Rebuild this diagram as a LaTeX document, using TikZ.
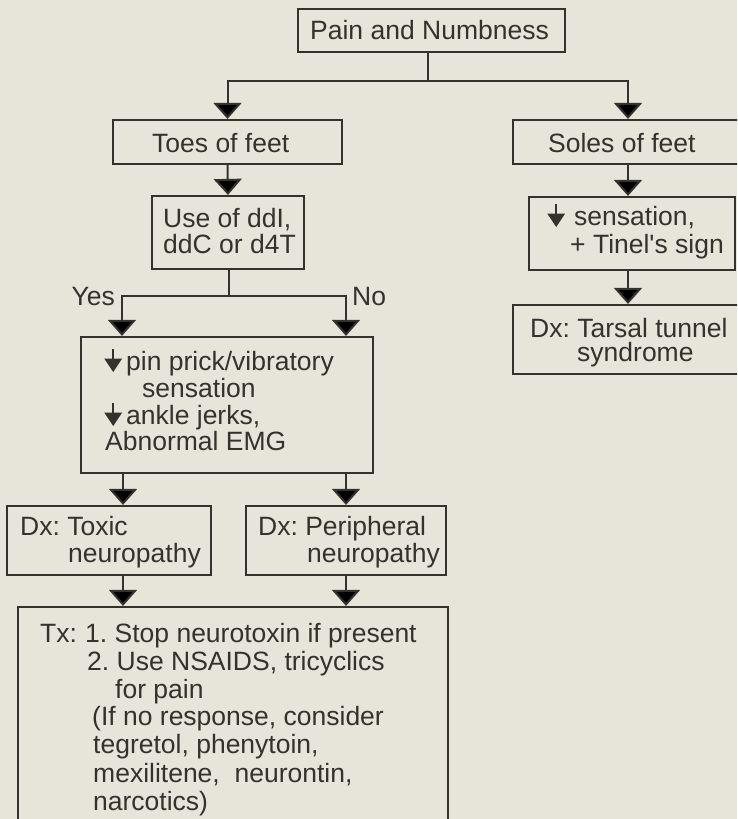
\documentclass[tikz,border=0pt]{standalone}
\usepackage{fontspec}
\setmainfont{Liberation Sans}
\usetikzlibrary{arrows.meta}
\definecolor{paper}{RGB}{231,228,218}
\definecolor{ink}{RGB}{52,50,45}
% small "decreased" arrow used inside the finding texts
\newcommand\dnarr{\tikz[baseline=0pt, x=1pt, y=1pt]{%
  \draw[draw=ink, line width=2pt] (9,21) -- (9,8);
  \fill[ink] (0,11.5) -- (18,11.5) -- (9,-2) -- cycle;}}
\frenchspacing
\begin{document}
\begin{tikzpicture}[x=1pt,y=-1pt,
  box/.style={draw=ink, line width=2.2pt, inner sep=0pt, rectangle},
  wire/.style={draw=ink, line width=2pt},
  arr/.style={wire, -{Triangle[width=28pt,length=16pt]}},
  txt/.style={text=ink, inner sep=0pt, anchor=base west, font=\fontsize{26.5}{28}\selectfont}]

\useasboundingbox (0,0) rectangle (737,819);
\fill[paper] (0,0) rectangle (737,819);
\clip (0,0) rectangle (737,819);

% boxes
\node[box, minimum width=267pt, minimum height=43pt] (pain)   at (431.5,30.5) {};
\node[box, minimum width=229pt, minimum height=44pt] (toes)   at (227.5,142)  {};
\node[box, minimum width=232pt, minimum height=44pt] (soles)  at (629,142)    {};
\node[box, minimum width=152pt, minimum height=73pt] (use)    at (228,232.5)  {};
\node[box, minimum width=292pt, minimum height=136pt] (pin)   at (227,405)    {};
\node[box, minimum width=204pt, minimum height=69pt] (toxic)  at (109,540.5)  {};
\node[box, minimum width=200pt, minimum height=69pt] (periph) at (346,540.5)  {};
\node[box, minimum width=430pt, minimum height=223pt] (tx)    at (233,718.5)  {};
\node[box, minimum width=206pt, minimum height=73pt] (sens)   at (632,233.5)  {};
\node[box, minimum width=232pt, minimum height=69pt] (tarsal) at (629,339.5)  {};

% texts
\node[txt] (painT) at (310,39) {Pain and Numbness};
\node[txt] (toesT) at (152,152) {Toes of feet};
\node[txt] (solesT) at (548,152) {Soles of feet};
\node[txt] (useT1) at (163,227) {Use of ddI,};
\node[txt] (useT2) at (163,253) {ddC or d4T};
\node[txt] (pinT1) at (104,370) {\dnarr\hspace{4pt}pin prick/vibratory};
\node[txt] (pinT2) at (142,397) {sensation};
\node[txt] (pinT3) at (104,424) {\dnarr\hspace{4pt}ankle jerks,};
\node[txt] (pinT4) at (105,450) {Abnormal EMG};
\node[txt] (toxT1) at (20,535) {Dx: Toxic};
\node[txt] (toxT2) at (68,562) {neuropathy};
\node[txt] (perT1) at (258,535) {Dx: Peripheral};
\node[txt] (perT2) at (307,562) {neuropathy};
\node[txt] (sensT1) at (547,225) {\dnarr\hspace{9pt}sensation,};
\node[txt] (sensT2) at (570,253) {+ Tinel\textquotesingle s sign};
\node[txt] (tarT1) at (530,337) {Dx: Tarsal tunnel};
\node[txt] (tarT2) at (577,361) {syndrome};
\node[txt] (txT0) at (40,642) {Tx:};
\node[txt] (txT1) at (85,642) {1. Stop neurotoxin if present};
\node[txt] (txT2) at (87,670) {2. Use NSAIDS, tricyclics};
\node[txt] (txT3) at (115,698) {for pain};
\node[txt] (txT4) at (92,725) {(If no response, consider};
\node[txt] (txT5) at (93,753) {tegretol, phenytoin,};
\node[txt] (txT6) at (93,782) {mexilitene,\ \ neurontin,};
\node[txt] (txT7) at (93,810) {narcotics)};

% junction points
\coordinate (pj) at (428,81);
\coordinate (uj) at (229,296);
\coordinate (yesx) at (122,296);
\coordinate (nox) at (346,296);
\coordinate (lx) at (123,0);
\coordinate (rx) at (346,0);
\coordinate (sx) at (628,0);

\node[txt, anchor=base east] (yes) at (115,305) {Yes};
\node[txt] (no) at (352,305) {No};

% connectors
\draw[wire] (pain.south -| pj) -- (pj);
\draw[arr] (pj) -| (toes.north);
\draw[arr] (pj) -| (soles.north -| sx);
\draw[arr] (toes.south) -- (use.north);
\draw[wire] (use.south -| uj) -- (uj);
\draw[arr] (uj) -| (pin.north -| yesx);
\draw[arr] (uj) -| (pin.north -| nox);
\draw[arr] (pin.south -| lx) -- (toxic.north -| lx);
\draw[arr] (pin.south -| rx) -- (periph.north -| rx);
\draw[arr] (toxic.south -| lx) -- (tx.north -| lx);
\draw[arr] (periph.south -| rx) -- (tx.north -| rx);
\draw[arr] (soles.south -| sx) -- (sens.north -| sx);
\draw[arr] (sens.south -| sx) -- (tarsal.north -| sx);
\end{tikzpicture}
\end{document}
